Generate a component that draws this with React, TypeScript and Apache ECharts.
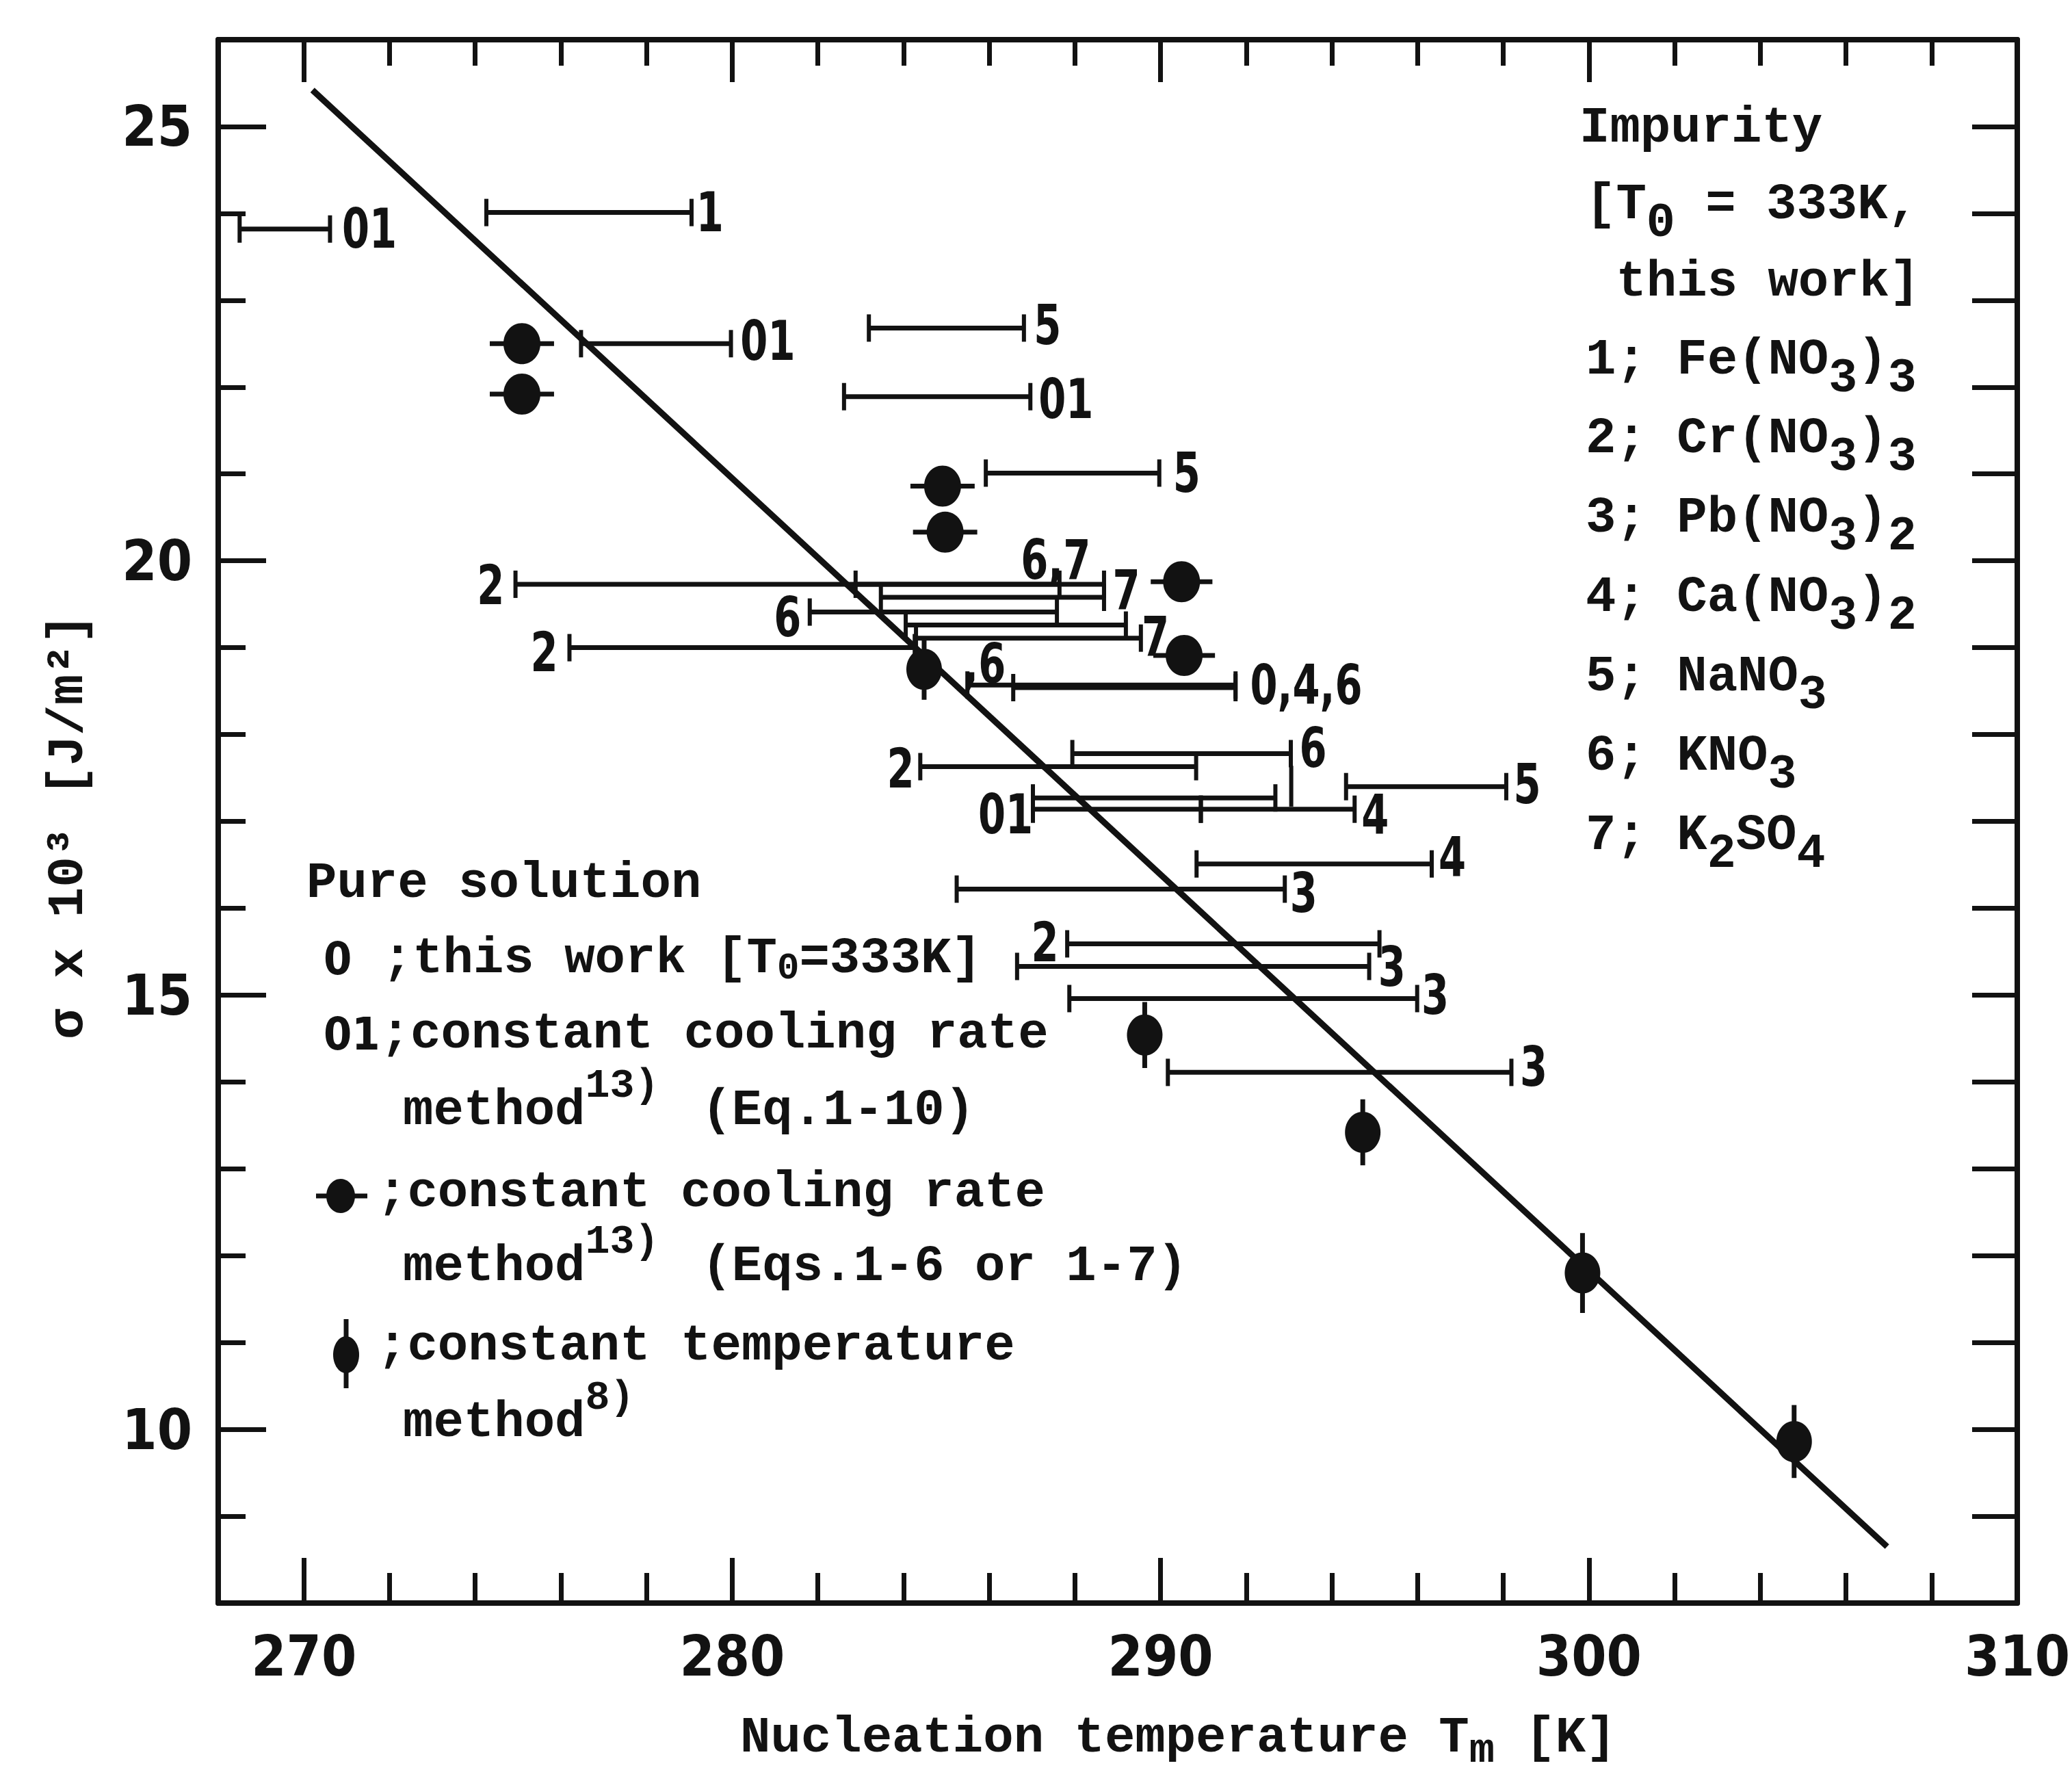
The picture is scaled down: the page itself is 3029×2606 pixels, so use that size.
import React, { useEffect, useRef } from "react";
import * as echarts from "echarts";

const WIDTH = 3029;
const HEIGHT = 2606;

const INK = "#121212";
const NUM_FONT = '"Liberation Sans Narrow", "DejaVu Sans Condensed", "Liberation Sans", Arial, sans-serif';
const MONO_FONT = '"Liberation Mono", "DejaVu Sans Mono", "Courier New", monospace';

// Axis ranges and tick positions
const T_MIN = 268;
const T_MAX = 310;
const S_MIN = 8;
const S_MAX = 26;
const xMajorTicks = [270, 280, 290, 300];
const xMinorTicks = [272, 274, 276, 278, 282, 284, 286, 288, 292, 294, 296, 298, 302, 304, 306, 308];
const xTickLabels = [270, 280, 290, 300, 310];
const yMajorTicks = [10, 15, 20, 25];
const yMinorTicks = [9, 11, 12, 13, 14, 16, 17, 18, 19, 21, 22, 23, 24];
const yRightTicks = [9, 10, 11, 12, 13, 14, 15, 16, 17, 18, 19, 20, 21, 22, 23, 24, 25];
const yTickLabels = [10, 15, 20, 25];

// Impurity runs: nucleation temperature range [T low, T high] at sigma x 10^3
const rangeBars: number[][] = [
  [268.5, 270.61, 23.82],
  [274.26, 279.05, 24.01],
  [276.47, 279.97, 22.5],
  [283.19, 286.81, 22.68],
  [282.61, 286.96, 21.89],
  [285.92, 289.97, 21.01],
  [274.94, 288.68, 19.73],
  [282.88, 287.64, 19.73],
  [283.47, 288.68, 19.58],
  [281.81, 287.58, 19.41],
  [284.05, 289.19, 19.26],
  [284.29, 289.54, 19.11],
  [276.2, 284.26, 19.0],
  [285.49, 291.75, 18.57],
  [286.56, 291.75, 18.54],
  [287.94, 293.04, 17.78],
  [284.39, 290.83, 17.63],
  [294.33, 298.07, 17.4],
  [287.02, 292.68, 17.27],
  [287.02, 290.94, 17.14],
  [290.94, 294.53, 17.14],
  [290.84, 296.33, 16.51],
  [285.24, 292.9, 16.22],
  [287.82, 295.11, 15.59],
  [286.65, 294.87, 15.33],
  [287.87, 295.99, 14.96],
  [290.17, 298.19, 14.11],
];

// Stand-alone vertical stroke: [T, sigma low, sigma high]
const extraTicks: number[][] = [[293.05, 17.17, 17.64]];

// Impurity labels beside the ranges: [T, sigma, text]
const barLabels: [number, number, string][] = [
  [271.53, 23.82, "01"],
  [279.48, 24.01, "1"],
  [280.83, 22.53, "01"],
  [287.36, 22.71, "5"],
  [287.79, 21.86, "01"],
  [290.61, 21.01, "5"],
  [274.36, 19.72, "2"],
  [287.55, 20.01, "6,7"],
  [289.2, 19.66, "7"],
  [281.29, 19.35, "6"],
  [289.88, 19.13, "7"],
  [275.61, 18.95, "2"],
  [285.89, 18.81, ",6"],
  [293.4, 18.57, "0,4,6"],
  [293.56, 17.84, "6"],
  [283.93, 17.61, "2"],
  [298.56, 17.43, "5"],
  [286.38, 17.08, "01"],
  [295.01, 17.07, "4"],
  [296.81, 16.58, "4"],
  [293.34, 16.17, "3"],
  [287.3, 15.61, "2"],
  [295.4, 15.32, "3"],
  [296.41, 15.0, "3"],
  [298.71, 14.17, "3"],
];

// Pure solution, constant cooling rate (Eqs. 1-6 / 1-7): [T, sigma, dT]
const coolingDots: number[][] = [
  [275.09, 22.5, 0.75],
  [275.09, 21.92, 0.75],
  [284.91, 20.86, 0.75],
  [284.97, 20.33, 0.75],
  [290.49, 19.76, 0.72],
  [290.55, 18.91, 0.72],
];

// Pure solution, constant temperature method: [T, sigma, dSigma]
const isothermDots: number[][] = [
  [284.48, 18.75, 0.35],
  [289.63, 14.54, 0.38],
  [294.72, 13.42, 0.38],
  [299.85, 11.8, 0.46],
  [304.79, 9.86, 0.42],
];

// Correlation line end points [T, sigma]
const fitLine: number[][] = [
  [270.2, 25.42],
  [306.96, 8.65],
];

// Legend blocks (rich text)
const impurityLines = [
  "{m|Impurity}",
  "{m|[T}{s|0}{m| = 333K,}",
  "{m| this work]}",
  "{m|1; Fe(NO}{s|3}{m|)}{s|3}",
  "{m|2; Cr(NO}{s|3}{m|)}{s|3}",
  "{m|3; Pb(NO}{s|3}{m|)}{s|2}",
  "{m|4; Ca(NO}{s|3}{m|)}{s|2}",
  "{m|5; NaNO}{s|3}",
  "{m|6; KNO}{s|3}",
  "{m|7; K}{s|2}{m|SO}{s|4}",
];
const impurityLineY = [187, 299, 412, 526, 641, 757, 873, 989, 1105, 1221];

const pureLines: [number, number, string][] = [
  [448, 1291, "{m|Pure solution}"],
  [473, 1401, "{n|0}{m| ;this work [T}{ss|0}{m|=333K]}"],
  [473, 1511, "{n|01}{m|;constant cooling rate}"],
  [589, 1623, "{m|method}{sp|13)}{g| }{m|(Eq.1-10)}"],
  [551, 1743, "{m|;constant cooling rate}"],
  [589, 1851, "{m|method}{sp|13)}{g| }{m|(Eqs.1-6 or 1-7)}"],
  [551, 1967, "{m|;constant temperature}"],
  [589, 2079, "{m|method}{sp|8)}"],
];

const rich: any = {
  m: { fontFamily: MONO_FONT, fontWeight: "bold", fontSize: 74, lineHeight: 90, fill: INK },
  n: { fontFamily: NUM_FONT, fontWeight: "bold", fontSize: 66, lineHeight: 90, fill: INK },
  s: { fontFamily: MONO_FONT, fontWeight: "bold", fontSize: 70, lineHeight: 90, padding: [54, 0, 0, 0], fill: INK },
  ss: { fontFamily: MONO_FONT, fontWeight: "bold", fontSize: 54, lineHeight: 90, padding: [28, 0, 0, 0], fill: INK },
  sp: { fontFamily: MONO_FONT, fontWeight: "bold", fontSize: 60, lineHeight: 90, padding: [0, 0, 72, 0], fill: INK },
  xs: { fontFamily: MONO_FONT, fontWeight: "bold", fontSize: 62, lineHeight: 90, padding: [36, 0, 0, 0], fill: INK },
  g: { width: 62, lineHeight: 90 },
};

const tickLine = { color: INK, width: 7 };

function xAxisOf(position: string, ticks: number[], length: number, withLine: boolean, labels?: number[]) {
  return {
    type: "value",
    position,
    min: T_MIN,
    max: T_MAX,
    interval: 2,
    splitLine: { show: false },
    axisLine: withLine
      ? { show: true, onZero: false, lineStyle: { color: INK, width: 8 } }
      : { show: false, onZero: false },
    axisTick: { show: true, inside: true, length, customValues: ticks, lineStyle: tickLine },
    axisLabel: labels
      ? {
          show: true,
          customValues: labels,
          showMinLabel: true,
          showMaxLabel: true,
          margin: 36,
          fontSize: 82,
          fontWeight: "bold",
          fontFamily: NUM_FONT,
          color: INK,
        }
      : { show: false },
  };
}

function yAxisOf(position: string, ticks: number[], length: number, withLine: boolean, labels?: number[]) {
  return {
    type: "value",
    position,
    min: S_MIN,
    max: S_MAX,
    interval: 1,
    splitLine: { show: false },
    axisLine: withLine
      ? { show: true, onZero: false, lineStyle: { color: INK, width: 8 } }
      : { show: false, onZero: false },
    axisTick: { show: true, inside: true, length, customValues: ticks, lineStyle: tickLine },
    axisLabel: labels
      ? {
          show: true,
          customValues: labels,
          showMinLabel: true,
          showMaxLabel: true,
          margin: 38,
          fontSize: 82,
          fontWeight: "bold",
          fontFamily: NUM_FONT,
          color: INK,
        }
      : { show: false },
  };
}

function App() {
  const ref = useRef<HTMLDivElement>(null);

  useEffect(() => {
    if (!ref.current) return;
    const chart = echarts.init(ref.current, null, { renderer: "svg" });

    const renderRange = (params: any, api: any) => {
      const s = api.value(2);
      const a = api.coord([api.value(0), s]);
      const b = api.coord([api.value(1), s]);
      const cap = 20;
      return {
        type: "group",
        children: [
          { type: "line", shape: { x1: a[0], y1: a[1], x2: b[0], y2: b[1] }, style: { stroke: INK, lineWidth: 7 } },
          { type: "line", shape: { x1: a[0], y1: a[1] - cap, x2: a[0], y2: a[1] + cap }, style: { stroke: INK, lineWidth: 6 } },
          { type: "line", shape: { x1: b[0], y1: b[1] - cap, x2: b[0], y2: b[1] + cap }, style: { stroke: INK, lineWidth: 6 } },
        ],
      };
    };

    const renderExtraTick = (params: any, api: any) => {
      const a = api.coord([api.value(0), api.value(1)]);
      const b = api.coord([api.value(0), api.value(2)]);
      return { type: "line", shape: { x1: a[0], y1: a[1], x2: b[0], y2: b[1] }, style: { stroke: INK, lineWidth: 6 } };
    };

    const renderLabel = (params: any, api: any) => {
      const p = api.coord([api.value(0), api.value(1)]);
      return {
        type: "text",
        x: p[0],
        y: p[1],
        scaleX: 0.8,
        style: {
          text: barLabels[params.dataIndex][2],
          fontSize: 80,
          fontWeight: "bold",
          fontFamily: NUM_FONT,
          fill: INK,
          align: "center",
          verticalAlign: "middle",
        },
      };
    };

    const renderCooling = (params: any, api: any) => {
      const t = api.value(0);
      const s = api.value(1);
      const e = api.value(2);
      const c = api.coord([t, s]);
      const l = api.coord([t - e, s]);
      const r = api.coord([t + e, s]);
      return {
        type: "group",
        children: [
          { type: "line", shape: { x1: l[0], y1: l[1], x2: r[0], y2: r[1] }, style: { stroke: INK, lineWidth: 7 } },
          { type: "ellipse", shape: { cx: c[0], cy: c[1], rx: 27, ry: 30 }, style: { fill: INK } },
        ],
      };
    };

    const renderIsotherm = (params: any, api: any) => {
      const t = api.value(0);
      const s = api.value(1);
      const e = api.value(2);
      const c = api.coord([t, s]);
      const lo = api.coord([t, s - e]);
      const hi = api.coord([t, s + e]);
      return {
        type: "group",
        children: [
          { type: "line", shape: { x1: lo[0], y1: lo[1], x2: hi[0], y2: hi[1] }, style: { stroke: INK, lineWidth: 7 } },
          { type: "ellipse", shape: { cx: c[0], cy: c[1], rx: 26, ry: 30 }, style: { fill: INK } },
        ],
      };
    };

    const textStyle = (text: string) => ({
      text,
      rich,
      fill: INK,
      fontFamily: MONO_FONT,
      fontWeight: "bold",
      fontSize: 74,
      align: "left",
      verticalAlign: "middle",
    });

    const graphics: any[] = [];
    impurityLines.forEach((t, i) => {
      graphics.push({ type: "text", x: i === 0 ? 2309 : 2318, y: impurityLineY[i], style: textStyle(t) });
    });
    pureLines.forEach(([x, y, t]) => {
      graphics.push({ type: "text", x, y, style: textStyle(t) });
    });
    // legend symbol: dot with horizontal bar
    graphics.push({ type: "line", shape: { x1: 462, y1: 1748, x2: 537, y2: 1748 }, style: { stroke: INK, lineWidth: 7 } });
    graphics.push({ type: "ellipse", shape: { cx: 498, cy: 1748, rx: 21, ry: 25 }, style: { fill: INK } });
    // legend symbol: dot with vertical bar
    graphics.push({ type: "line", shape: { x1: 506, y1: 1928, x2: 506, y2: 2029 }, style: { stroke: INK, lineWidth: 7 } });
    graphics.push({ type: "ellipse", shape: { cx: 506, cy: 1980, rx: 19, ry: 27 }, style: { fill: INK } });
    // axis titles
    graphics.push({
      type: "text",
      x: 1082,
      y: 2540,
      style: textStyle("{m|Nucleation temperature T}{xs|m}{m| [K]}"),
    });
    graphics.push({
      type: "text",
      x: 100,
      y: 1208,
      rotation: Math.PI / 2,
      style: { ...textStyle("{m|σ x 10³ [J/m²]}"), align: "center" },
    });

    chart.setOption({
      animation: false,
      backgroundColor: "#ffffff",
      grid: { left: 319, right: 73, top: 58, bottom: 263, containLabel: false },
      xAxis: [
        xAxisOf("bottom", xMajorTicks, 66, true, xTickLabels),
        xAxisOf("bottom", xMinorTicks, 44, false),
        xAxisOf("top", xMajorTicks, 62, true),
        xAxisOf("top", xMinorTicks, 38, false),
      ],
      yAxis: [
        yAxisOf("left", yMajorTicks, 70, true, yTickLabels),
        yAxisOf("left", yMinorTicks, 40, false),
        yAxisOf("right", yRightTicks, 66, true),
      ],
      graphic: { elements: graphics },
      series: [
        {
          type: "custom",
          name: "impurity ranges",
          xAxisIndex: 0,
          yAxisIndex: 0,
          renderItem: renderRange,
          encode: { x: [0, 1], y: 2 },
          data: rangeBars,
          z: 3,
        },
        {
          type: "custom",
          name: "extra ticks",
          xAxisIndex: 0,
          yAxisIndex: 0,
          renderItem: renderExtraTick,
          encode: { x: 0, y: [1, 2] },
          data: extraTicks,
          z: 3,
        },
        {
          type: "custom",
          name: "impurity labels",
          xAxisIndex: 0,
          yAxisIndex: 0,
          renderItem: renderLabel,
          encode: { x: 0, y: 1 },
          data: barLabels.map((d) => [d[0], d[1]]),
          z: 4,
        },
        {
          type: "line",
          name: "correlation",
          xAxisIndex: 0,
          yAxisIndex: 0,
          data: fitLine,
          showSymbol: false,
          symbol: "none",
          lineStyle: { color: INK, width: 9 },
          z: 5,
        },
        {
          type: "custom",
          name: "constant cooling rate",
          xAxisIndex: 0,
          yAxisIndex: 0,
          renderItem: renderCooling,
          encode: { x: 0, y: 1 },
          data: coolingDots,
          z: 6,
        },
        {
          type: "custom",
          name: "constant temperature",
          xAxisIndex: 0,
          yAxisIndex: 0,
          renderItem: renderIsotherm,
          encode: { x: 0, y: 1 },
          data: isothermDots,
          z: 6,
        },
      ],
    });

    return () => {
      chart.dispose();
    };
  }, []);

  return (
    <div
      ref={ref}
      style={{ position: "absolute", left: 0, top: 0, width: WIDTH, height: HEIGHT, background: "#ffffff" }}
    />
  );
}

export default App;
